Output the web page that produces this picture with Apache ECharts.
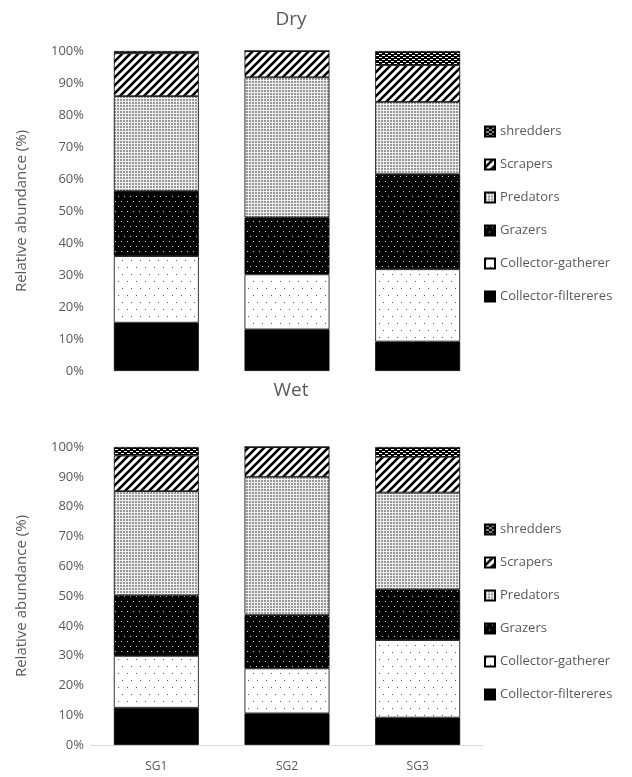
<!DOCTYPE html>
<html>
<head>
<meta charset="utf-8">
<title>Dry / Wet functional feeding groups</title>
<script src="https://cdn.jsdelivr.net/npm/echarts@6/dist/echarts.min.js"></script>
<style>
html, body { margin: 0; padding: 0; background: #fff; }
#main { width: 632px; height: 777px; }
</style>
</head>
<body>
<div id="main"></div>
<script>
var sites = ['SG1', 'SG2', 'SG3'];
var groups = ['Collector-filtereres', 'Collector-gatherer', 'Grazers', 'Predators', 'Scrapers', 'shredders'];
var yTicks = [0, 10, 20, 30, 40, 50, 60, 70, 80, 90, 100];

// dry season, % per site
var dryFilterers = [15.1, 13.0, 9.2];
var dryGatherer  = [20.8, 17.2, 22.6];
var dryGrazers   = [20.3, 17.8, 29.7];
var dryPredators = [29.7, 43.8, 22.6];
var dryScrapers  = [13.4, 8.2, 11.5];
var dryShredders = [0.7, 0.0, 4.4];

// wet season, % per site
var wetFilterers = [12.5, 10.6, 9.2];
var wetGatherer  = [17.4, 15.1, 26.0];
var wetGrazers   = [20.3, 17.9, 17.0];
var wetPredators = [35.0, 46.4, 32.5];
var wetScrapers  = [11.9, 10.0, 12.0];
var wetShredders = [2.9, 0.0, 3.3];

// little canvas tiles for the hatch fills
function tile(w, h, draw) {
  var c = document.createElement('canvas');
  c.width = w; c.height = h;
  var ctx = c.getContext('2d');
  draw(ctx, w, h);
  return { image: c, repeat: 'repeat' };
}
var fills = [
  '#000',
  tile(9, 14, function (ctx, w, h) {
    ctx.fillStyle = '#fff'; ctx.fillRect(0, 0, w, h);
    ctx.fillStyle = '#555';
    ctx.fillRect(1, 1, 1, 1); ctx.fillRect(5, 8, 1, 1);
  }),
  tile(6, 10, function (ctx, w, h) {
    ctx.fillStyle = '#000'; ctx.fillRect(0, 0, w, h);
    ctx.fillStyle = '#ddd';
    ctx.fillRect(1, 1, 1, 1); ctx.fillRect(4, 6, 1, 1);
  }),
  tile(3, 3, function (ctx, w, h) {
    ctx.fillStyle = '#eee'; ctx.fillRect(0, 0, w, h);
    ctx.fillStyle = '#999';
    ctx.fillRect(0, 0, 2, 2);
  }),
  tile(8, 8, function (ctx, w, h) {
    ctx.fillStyle = '#fff'; ctx.fillRect(0, 0, w, h);
    ctx.strokeStyle = '#000'; ctx.lineWidth = 2.6;
    ctx.beginPath();
    ctx.moveTo(-2, 10); ctx.lineTo(10, -2);
    ctx.moveTo(-6, 6); ctx.lineTo(6, -6);
    ctx.moveTo(2, 14); ctx.lineTo(14, 2);
    ctx.stroke();
  }),
  tile(6, 4, function (ctx, w, h) {
    ctx.fillStyle = '#000'; ctx.fillRect(0, 0, w, h);
    ctx.fillStyle = '#fff';
    ctx.fillRect(1, 1, 3, 1); ctx.fillRect(4, 3, 2, 1); ctx.fillRect(0, 3, 1, 1);
  })
];

var dryData = [dryFilterers, dryGatherer, dryGrazers, dryPredators, dryScrapers, dryShredders];
var wetData = [wetFilterers, wetGatherer, wetGrazers, wetPredators, wetScrapers, wetShredders];

var grey = '#595959';
var font = 'Open Sans';

function makeSeries(data, idx, stack) {
  return groups.map(function (g, i) {
    return {
      name: g,
      type: 'bar',
      stack: stack,
      xAxisIndex: idx,
      yAxisIndex: idx,
      barCategoryGap: '35%',
      data: data[i],
      itemStyle: { color: fills[i], borderColor: '#000', borderWidth: 0.8 },
      emphasis: { disabled: true }
    };
  });
}

function yAxisFor(idx) {
  return {
    gridIndex: idx,
    type: 'value',
    min: yTicks[0],
    max: yTicks[yTicks.length - 1],
    interval: 10,
    name: 'Relative abundance (%)',
    nameLocation: 'middle',
    nameGap: 62,
    nameTextStyle: { color: grey, fontSize: 15, fontFamily: font },
    axisLine: { show: false },
    axisTick: { show: false },
    splitLine: { show: false },
    axisLabel: { formatter: '{value}%', color: grey, fontSize: 13, fontFamily: font, margin: 7 }
  };
}

function legendFor(top) {
  return {
    orient: 'vertical',
    left: 479,
    top: top,
    itemWidth: 10,
    itemHeight: 10,
    itemGap: 20,
    icon: 'rect',
    data: groups.slice().reverse(),
    textStyle: { color: grey, fontSize: 13, fontFamily: font },
    selectedMode: false
  };
}

var chart = echarts.init(document.getElementById('main'));
chart.setOption({
  animation: false,
  backgroundColor: '#fff',
  title: [
    { text: 'Dry', left: 286, textAlign: 'center', top: 5,
      textStyle: { color: grey, fontSize: 19, fontWeight: 'normal', fontFamily: font } },
    { text: 'Wet', left: 286, textAlign: 'center', top: 376,
      textStyle: { color: grey, fontSize: 19, fontWeight: 'normal', fontFamily: font } }
  ],
  legend: [legendFor(120), legendFor(518)],
  grid: [
    { left: 91, width: 392, top: 51, height: 320 },
    { left: 91, width: 392, top: 447, height: 298 }
  ],
  xAxis: [
    { gridIndex: 0, type: 'category', data: sites,
      axisLine: { show: false }, axisTick: { show: false }, axisLabel: { show: false } },
    { gridIndex: 1, type: 'category', data: sites,
      axisLine: { lineStyle: { color: '#d9d9d9' } }, axisTick: { show: false },
      axisLabel: { color: grey, fontSize: 12, fontFamily: font, margin: 16 } }
  ],
  yAxis: [yAxisFor(0), yAxisFor(1)],
  series: makeSeries(dryData, 0, 'dry').concat(makeSeries(wetData, 1, 'wet'))
});
</script>
</body>
</html>
